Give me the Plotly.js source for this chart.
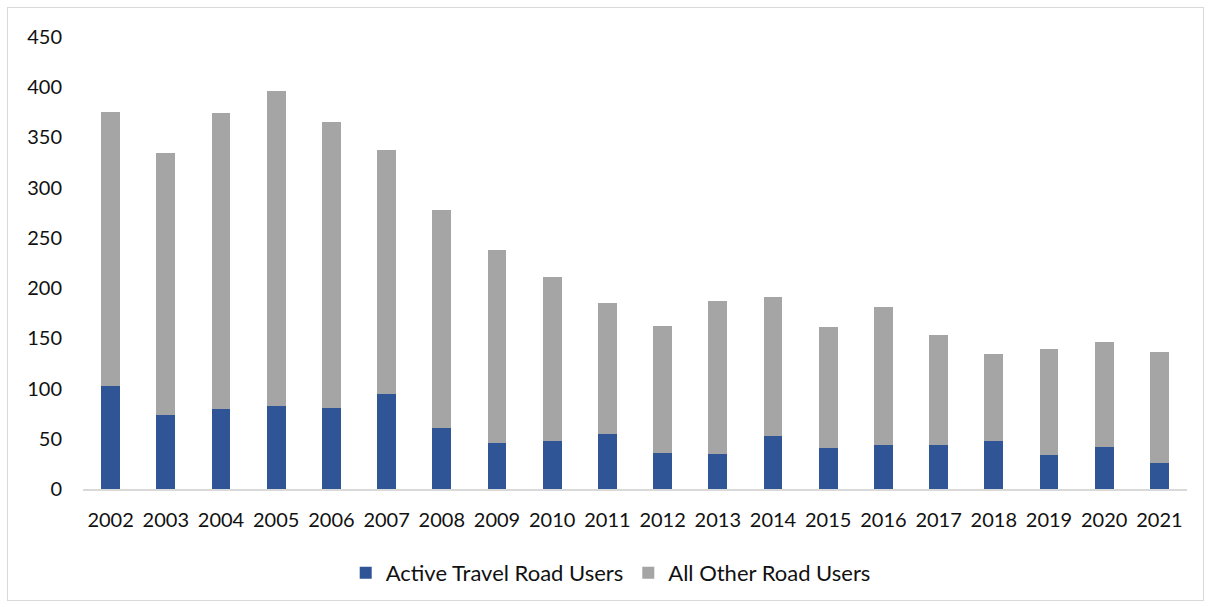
<!DOCTYPE html>
<html><head><meta charset="utf-8">
<script src="https://cdn.plot.ly/plotly-3.0.1.min.js"></script>
<style>
html,body{margin:0;padding:0;background:#fff;}
#wrap{position:relative;width:1210px;height:607px;}
#chart{position:absolute;left:0;top:0;width:1210px;height:607px;}
#frame{position:absolute;left:7px;top:7px;width:1195px;height:592px;border:1px solid #d9d9d9;pointer-events:none;}
</style></head>
<body>
<div id="wrap"><div id="chart"></div><div id="frame"></div></div>
<script>
const years = ['2002','2003','2004','2005','2006','2007','2008','2009','2010','2011','2012','2013','2014','2015','2016','2017','2018','2019','2020','2021'];
const activeTravel = [103,74,80,83,81,95,61,46,48,55,36,35,53,41,44,44,48,34,42,26];
const allOther = [272,261,294,313,284,243,217,192,163,130,126,152,138,120,137,109,86,105,104,110];
const yTicks = [0,50,100,150,200,250,300,350,400,450];

const font = {family:'Lato, "Open Sans", sans-serif', size:20, color:'#111'};
const legendFont = {family:'Lato, "Open Sans", sans-serif', size:22, color:'#111'};
const data = [
  {type:'bar', name:'Active Travel Road Users', x:years, y:activeTravel, marker:{color:'#2F5597', line:{width:0}}},
  {type:'bar', name:'All Other Road Users', x:years, y:allOther, marker:{color:'#A5A5A5', line:{width:0}}}
];
const layout = {
  width:1210, height:607,
  margin:{l:83, r:23, t:37, b:118},
  barmode:'stack', bargap:0.66,
  paper_bgcolor:'#fff', plot_bgcolor:'#fff',
  font:font,
  showlegend:true,
  legend:{orientation:'h', x:0.478, xanchor:'center', y:-0.186, yanchor:'middle', font:legendFont, traceorder:'normal', itemwidth:30},
  xaxis:{type:'category', showline:true, linecolor:'#d9d9d9', linewidth:2, ticks:'', showgrid:false, tickfont:font, fixedrange:true, ticklabelstandoff:12},
  yaxis:{range:[0,450], tickvals:yTicks, showgrid:false, showline:false, zeroline:false, ticks:'', tickfont:font, ticklabelstandoff:20}
};
Plotly.newPlot('chart', data, layout, {displayModeBar:false, staticPlot:true});
</script>
</body></html>
